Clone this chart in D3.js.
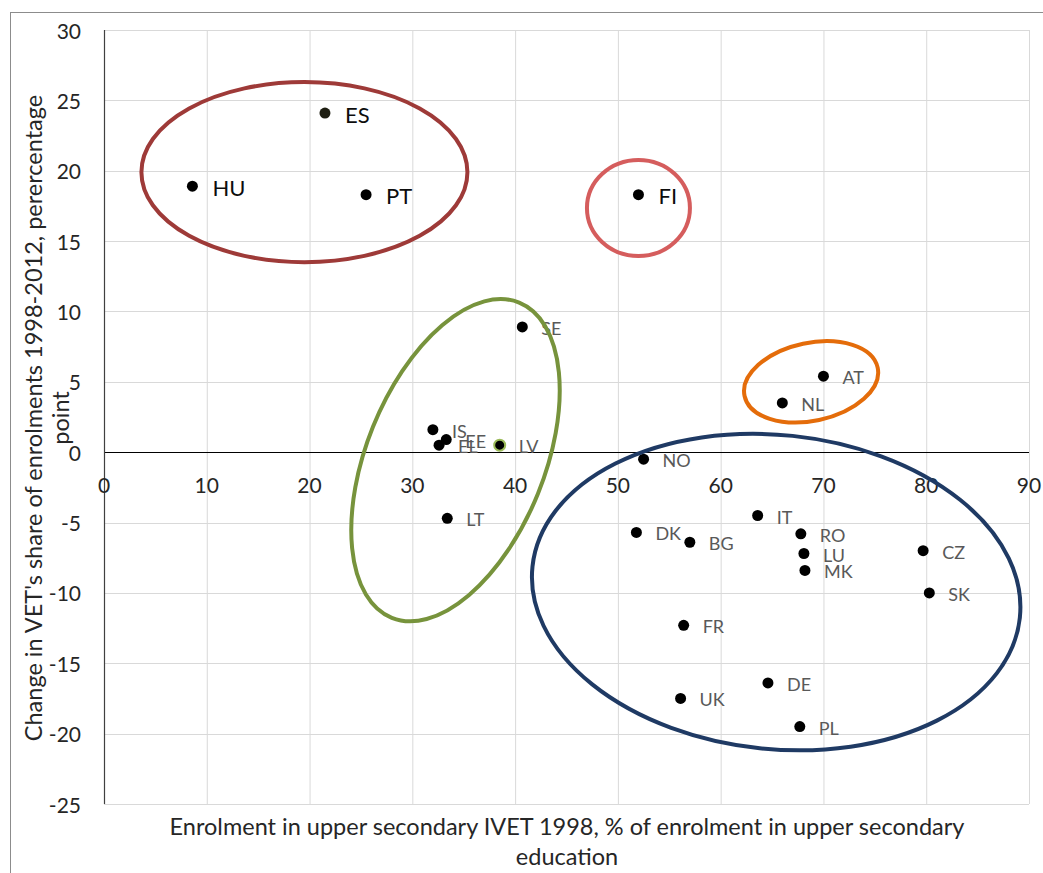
<!DOCTYPE html>
<html>
<head>
<meta charset="utf-8">
<script src="https://cdn.jsdelivr.net/npm/d3@7"></script>
<style>
  html, body { margin: 0; padding: 0; background: #fff; }
  svg { display: block; font-family: Lato, "Open Sans", sans-serif; }
</style>
</head>
<body>
<svg id="chart" width="1043" height="873"></svg>
<script>
// ---- data ----
const countries = ["HU","ES","PT","FI","SE","AT","NL","IS","EE","EL","LV","NO","LT","IT","DK","BG","RO","LU","MK","CZ","SK","FR","DE","UK","PL"];
const ivet1998  = [8.6, 21.5, 25.5, 52.0, 40.7, 70.0, 66.0, 32.0, 33.3, 32.6, 38.5, 52.5, 33.4, 63.6, 51.8, 57.0, 67.8, 68.1, 68.2, 79.7, 80.3, 56.4, 64.6, 56.1, 67.7];
const changeVet = [18.9, 24.1, 18.3, 18.3, 8.9, 5.4, 3.5, 1.6, 0.9, 0.5, 0.5, -0.5, -4.7, -4.5, -5.7, -6.4, -5.8, -7.2, -8.4, -7.0, -10.0, -12.3, -16.4, -17.5, -19.5];
const highlighted = ["HU","ES","PT","FI"];

const xTicks = [0,10,20,30,40,50,60,70,80,90];
const yTicks = [30,25,20,15,10,5,0,-5,-10,-15,-20,-25];

// cluster ellipses: centre (data), radii (data units x / y), rotation (deg)
const clusterCx    = [19.5, 52.0, 34.2, 68.8, 65.4];
const clusterCy    = [19.9, 17.35, -0.57, 5.0, -9.94];
const clusterRx    = [15.86, 5.01, 8.66, 6.62, 23.84];
const clusterRy    = [6.40, 3.41, 12.08, 2.77, 11.16];
const clusterAngle = [0, 0, 22, -12, 6];
const clusterColor = ["#9e3a38", "#d55d5d", "#77933c", "#e46c0a", "#1f3a64"];

const xTitle = ["Enrolment in upper secondary IVET 1998, % of enrolment in upper secondary", "education"];
const yTitle = ["Change in VET's share of enrolments 1998-2012, perercentage", "point"];

// ---- layout ----
const svg = d3.select("#chart");
const pLeft = 104, pRight = 1029, pTop = 30, pBottom = 804;
const x = d3.scaleLinear().domain([0, 90]).range([pLeft, pRight]);
const y = d3.scaleLinear().domain([-25, 30]).range([pBottom, pTop]);
const kx = x(1) - x(0), ky = y(0) - y(1);

// outer frame
svg.append("rect").attr("x", 10.5).attr("y", 12.5).attr("width", 1040).attr("height", 870)
  .attr("fill", "none").attr("stroke", "#8c8c8c").attr("stroke-width", 1);

// gridlines
svg.append("g").selectAll("line").data(xTicks).join("line")
  .attr("x1", d => x(d) + 0.5).attr("x2", d => x(d) + 0.5)
  .attr("y1", pTop).attr("y2", pBottom)
  .attr("stroke", "#d9d9d9").attr("stroke-width", 1);
svg.append("g").selectAll("line").data(yTicks).join("line")
  .attr("x1", pLeft).attr("x2", pRight)
  .attr("y1", d => Math.round(y(d)) + 0.5).attr("y2", d => Math.round(y(d)) + 0.5)
  .attr("stroke", "#d9d9d9").attr("stroke-width", 1);

// axes lines
svg.append("line").attr("x1", pLeft).attr("x2", pRight)
  .attr("y1", Math.round(y(0)) + 0.5).attr("y2", Math.round(y(0)) + 0.5)
  .attr("stroke", "#000").attr("stroke-width", 1.2);
svg.append("line").attr("x1", pLeft + 0.5).attr("x2", pLeft + 0.5)
  .attr("y1", pTop).attr("y2", pBottom)
  .attr("stroke", "#404040").attr("stroke-width", 1.2);

// y tick labels
svg.append("g").selectAll("text").data(yTicks).join("text")
  .attr("x", 81).attr("y", d => y(d))
  .attr("text-anchor", "end").attr("dominant-baseline", "central")
  .attr("font-size", 21).attr("fill", "#262626")
  .text(d => d);

// x tick labels (at y = 0 line)
svg.append("g").selectAll("text").data(xTicks).join("text")
  .attr("x", d => x(d)).attr("y", y(0) + 32)
  .attr("text-anchor", "middle").attr("dominant-baseline", "central")
  .attr("font-size", 21).attr("fill", "#262626")
  .text(d => d);

// axis titles
svg.append("g").selectAll("text").data(xTitle).join("text")
  .attr("x", 567).attr("y", (d, i) => 826 + i * 30)
  .attr("text-anchor", "middle").attr("dominant-baseline", "central")
  .attr("font-size", 23.5).attr("fill", "#262626")
  .text(d => d);
svg.append("g").attr("transform", "translate(0,418) rotate(-90)")
  .selectAll("text").data(yTitle).join("text")
  .attr("x", 0).attr("y", (d, i) => 33 + i * 27)
  .attr("text-anchor", "middle").attr("dominant-baseline", "central")
  .attr("font-size", 23.5).attr("fill", "#262626")
  .text(d => d);

// points
const pts = countries.map((c, i) => ({ c, xv: ivet1998[i], yv: changeVet[i] }));

// labels (drawn under ellipses, like the reference)
svg.append("g").selectAll("text").data(pts).join("text")
  .attr("x", d => x(d.xv) + (highlighted.includes(d.c) ? 20 : 19))
  .attr("y", d => y(d.yv) + 1)
  .attr("dominant-baseline", "central")
  .attr("font-size", d => highlighted.includes(d.c) ? 22 : 18)
  .attr("fill", d => highlighted.includes(d.c) ? "#0d0d0d" : "#595959")
  .text(d => d.c);

svg.append("g").selectAll("circle").data(pts).join("circle")
  .attr("cx", d => x(d.xv)).attr("cy", d => y(d.yv))
  .attr("r", 5.5)
  .attr("fill", d => d.c === "ES" ? "#1e1e12" : "#000")
  .attr("stroke", d => d.c === "LV" ? "#9bbb59" : "none")
  .attr("stroke-width", 2);

// cluster ellipses
const clusters = clusterCx.map((cx, i) => ({ cx, cy: clusterCy[i], rx: clusterRx[i], ry: clusterRy[i], a: clusterAngle[i], col: clusterColor[i] }));
svg.append("g").selectAll("ellipse").data(clusters).join("ellipse")
  .attr("transform", d => `translate(${x(d.cx)},${y(d.cy)}) rotate(${d.a})`)
  .attr("rx", d => d.rx * kx).attr("ry", d => d.ry * ky)
  .attr("fill", "none").attr("stroke", d => d.col).attr("stroke-width", 4);
</script>
</body>
</html>
